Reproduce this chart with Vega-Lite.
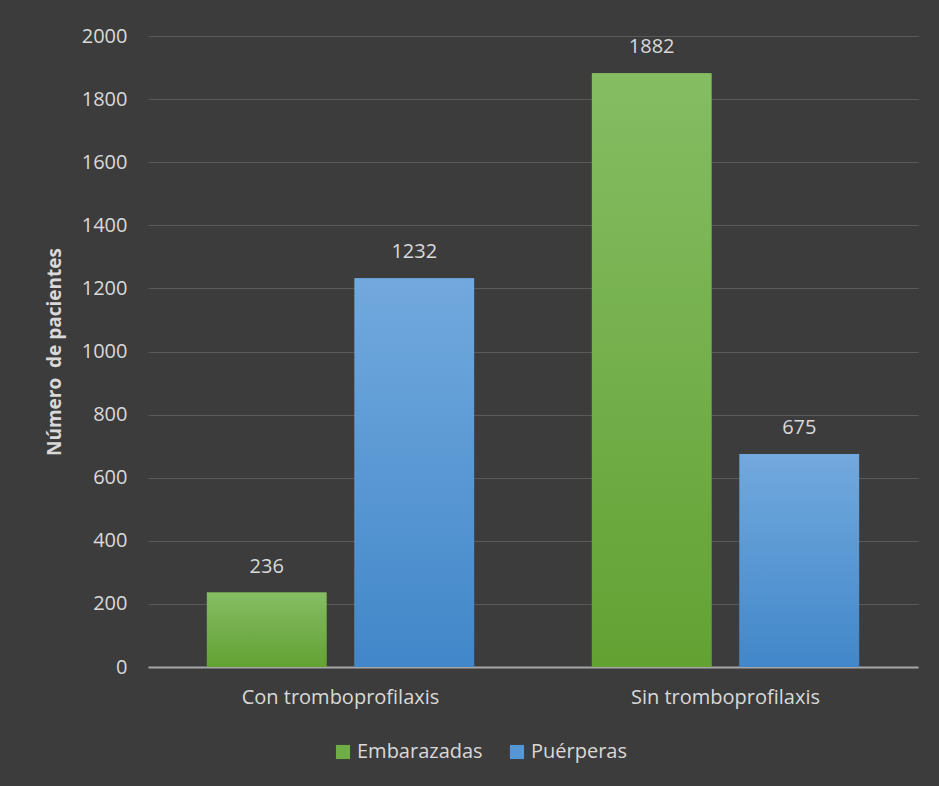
{
  "$schema": "https://vega.github.io/schema/vega-lite/v6.json",
  "autosize": "none",
  "width": 770,
  "height": 631,
  "padding": {"left": 148, "top": 36, "right": 21, "bottom": 119},
  "background": "#3c3c3c",
  "config": {
    "view": {"stroke": null},
    "font": "Open Sans",
    "axis": {"labelFont": "Open Sans", "titleFont": "Open Sans"},
    "legend": {"labelFont": "Open Sans"}
  },
  "data": {
    "values": [
      {"grupo": "Con tromboprofilaxis", "serie": "Embarazadas", "pacientes": 236},
      {"grupo": "Con tromboprofilaxis", "serie": "Puérperas", "pacientes": 1232},
      {"grupo": "Sin tromboprofilaxis", "serie": "Embarazadas", "pacientes": 1882},
      {"grupo": "Sin tromboprofilaxis", "serie": "Puérperas", "pacientes": 675}
    ]
  },
  "encoding": {
    "x": {
      "field": "grupo", "type": "nominal",
      "scale": {"paddingInner": 0.306, "paddingOuter": 0.153},
      "axis": {"title": null, "labelAngle": 0, "labelFontSize": 20, "labelLimit": 0, "labelColor": "#d9d9d9", "labelPadding": 20, "ticks": false, "domainColor": "#a6a6a6", "domainWidth": 2}
    },
    "xOffset": {"field": "serie", "type": "nominal", "scale": {"paddingInner": 0.19, "paddingOuter": 0}},
    "y": {
      "field": "pacientes", "type": "quantitative",
      "scale": {"domain": [0, 2000]},
      "axis": {"title": "Número\u00a0 de pacientes", "titleFontSize": 19, "titleFontWeight": "bold", "titleColor": "#d9d9d9", "titlePadding": 17, "labelFontSize": 20, "labelColor": "#d9d9d9", "labelPadding": 21, "labelOverlap": false, "format": "d", "ticks": false, "domain": false, "values": [0,200,400,600,800,1000,1200,1400,1600,1800,2000], "gridColor": "#5a5a5a", "gridWidth": 1}
    }
  },
  "layer": [
    {
      "mark": {"type": "bar"},
      "encoding": {
        "color": {
          "field": "serie", "type": "nominal",
          "scale": {"domain": ["Embarazadas", "Puérperas"], "range": ["#6fae46", "#5597d4"]},
          "legend": {"title": null, "orient": "none", "legendX": 185, "legendY": 706, "direction": "horizontal", "symbolType": "square", "symbolSize": 200, "symbolStrokeWidth": 0, "labelFontSize": 20, "labelColor": "#d9d9d9", "columnPadding": 24, "labelOffset": 4}
        }
      }
    },
    {
      "mark": {"type": "bar"},
      "encoding": {
        "fill": {
          "condition": {"test": "datum.serie === 'Embarazadas'", "value": {"gradient": "linear", "x1": 0, "y1": 0, "x2": 0, "y2": 1, "stops": [{"offset": 0, "color": "#85bd63"}, {"offset": 1, "color": "#62a233"}]}},
          "value": {"gradient": "linear", "x1": 0, "y1": 0, "x2": 0, "y2": 1, "stops": [{"offset": 0, "color": "#72a9de"}, {"offset": 1, "color": "#4187c9"}]}
        }
      }
    },
    {
      "mark": {"type": "text", "dy": -26, "fontSize": 20, "color": "#d9d9d9", "baseline": "middle"},
      "encoding": {"text": {"field": "pacientes", "type": "quantitative"}}
    }
  ]
}
